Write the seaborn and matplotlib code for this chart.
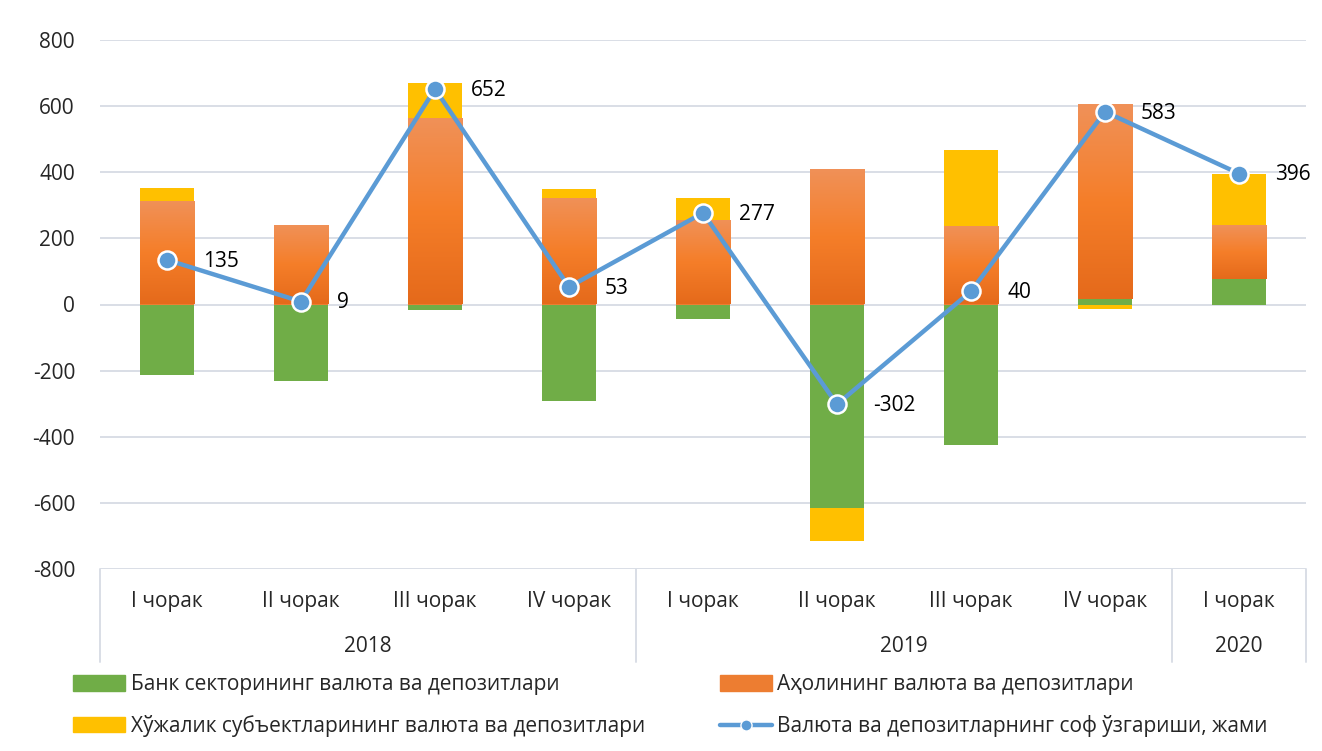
import numpy as np
import matplotlib
matplotlib.use('Agg')
import matplotlib.pyplot as plt
import seaborn as sns
import pandas as pd
from matplotlib.lines import Line2D
from matplotlib.patches import Patch

# data
quarters = ['I чорак', 'II чорак', 'III чорак', 'IV чорак',
            'I чорак', 'II чорак', 'III чорак', 'IV чорак', 'I чорак']
years = ['2018', '2019', '2020']
year_spans = [(0, 4), (4, 8), (8, 9)]
bank = [-213, -231, -18, -293, -45, -614, -426, 18, 76]
population = [312, 239, 563, 321, 257, 411, 236, 587, 163]
business = [40, 2, 106, 27, 64, -100, 230, -15, 157]
net_change = [135, 9, 652, 53, 277, -302, 40, 583, 396]

lbl_bank = 'Банк секторининг валюта ва депозитлари'
lbl_pop = 'Аҳолининг валюта ва депозитлари'
lbl_bus = 'Хўжалик субъектларининг валюта ва депозитлари'
lbl_net = 'Валюта ва депозитларнинг соф ўзгариши, жами'

sns.set_theme(style='white')
plt.rcParams['font.family'] = ['Open Sans', 'DejaVu Sans']
plt.rcParams['font.size'] = 15
plt.rcParams['axes.unicode_minus'] = False

c_green = '#70AD47'
c_yellow = '#FFC000'
c_orange = '#ED7D31'
c_line = '#5B9BD5'
c_grid = '#D9DEE6'

fig = plt.figure(figsize=(13.22, 7.51), dpi=100)
ax = fig.add_axes([100 / 1322, 1 - 569 / 751, 1206 / 1322, 529 / 751])

x = np.arange(len(quarters))
width = 0.41

# Excel-style stacking: positives stack up, negatives stack down
pos_base = np.zeros(len(x))
neg_base = np.zeros(len(x))
orange_bars = []
for vals, col in [(bank, c_green), (population, c_orange), (business, c_yellow)]:
    vals = np.array(vals, dtype=float)
    bottoms = np.where(vals >= 0, pos_base, neg_base)
    bars = ax.bar(x, vals, width=width, bottom=bottoms, color=col, zorder=2, linewidth=0)
    if col == c_orange:
        orange_bars = list(bars)
    pos_base = pos_base + np.where(vals >= 0, vals, 0)
    neg_base = neg_base + np.where(vals < 0, vals, 0)

# gradient fill for the population bars
grad = matplotlib.colors.LinearSegmentedColormap.from_list(
    'og', ['#E56A1B', '#F57E29', '#F09158'])
for b in orange_bars:
    x0, y0 = b.get_x(), b.get_y()
    w, h = b.get_width(), b.get_height()
    im = ax.imshow(np.linspace(0, 1, 100).reshape(-1, 1), cmap=grad, origin='lower',
                   extent=[x0, x0 + w, y0, y0 + h], aspect='auto', zorder=2.1)
    im.set_clip_path(b)

df_line = pd.DataFrame({'x': x, 'net': net_change})
sns.lineplot(data=df_line, x='x', y='net', ax=ax, color=c_line, linewidth=3.2,
             marker='o', markersize=13, markerfacecolor=c_line,
             markeredgecolor='white', markeredgewidth=1.8, zorder=4)
for xi, v in zip(x, net_change):
    ax.annotate(str(v), (xi, v), xytext=(26, -1), textcoords='offset points',
                ha='left', va='center', fontsize=15, color='black', zorder=5)

ax.set_xlim(-0.5, len(x) - 0.5)
ax.set_ylim(-800, 800)
ax.set_yticks(np.arange(-800, 801, 200))
ax.yaxis.grid(True, color=c_grid, linewidth=1.4, zorder=0)
ax.set_axisbelow(True)
for s in ax.spines.values():
    s.set_visible(False)
ax.tick_params(axis='y', length=0, pad=18, labelsize=15)
ax.set_xticks([])
ax.set_xlabel('')
ax.set_ylabel('')

# two-level category axis
trans = matplotlib.transforms.blended_transform_factory(ax.transData, ax.transAxes)
for xi, q in zip(x, quarters):
    ax.text(xi, -32 / 529, q, transform=trans, ha='center', va='center', fontsize=15)
for yr, (a, b) in zip(years, year_spans):
    ax.text((a + b - 1) / 2, -78 / 529, yr, transform=trans, ha='center', va='center', fontsize=15)
for sep in [-0.5, 3.5, 7.5, 8.5]:
    ax.add_line(Line2D([sep, sep], [0, -93 / 529], transform=trans, color=c_grid,
                       linewidth=1.4, clip_on=False))

handles = [Patch(color=c_green, label=lbl_bank),
           Patch(color=c_yellow, label=lbl_bus),
           Patch(color=c_orange, label=lbl_pop),
           Line2D([0], [0], color=c_line, linewidth=3.2, marker='o', markersize=8,
                  markerfacecolor=c_line, markeredgecolor='white', label=lbl_net)]
fig.legend(handles=handles, ncol=2, loc='upper left', bbox_to_anchor=(65 / 1322, 1 - 666 / 751),
           frameon=False, fontsize=15, handlelength=2.5, handleheight=0.75,
           handletextpad=0.25, columnspacing=3.6, labelspacing=0.95, borderaxespad=0)

fig.savefig('out.png', dpi=100)
